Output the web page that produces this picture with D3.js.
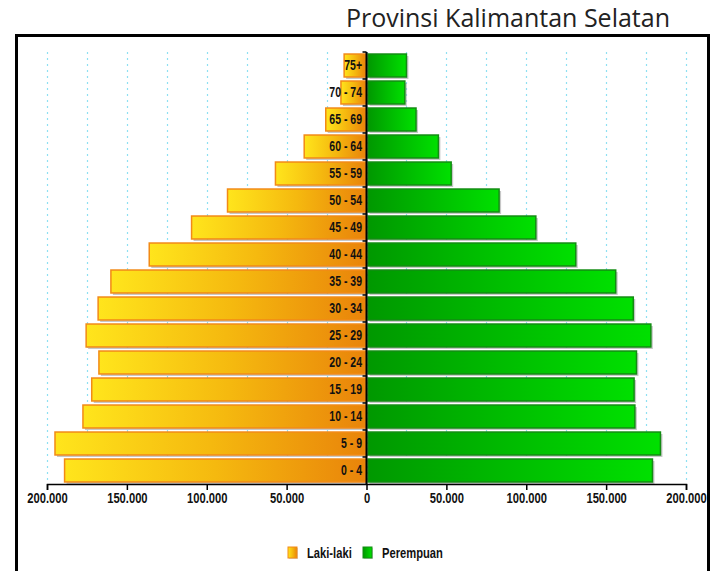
<!DOCTYPE html>
<html>
<head>
<meta charset="utf-8">
<script src="https://cdn.jsdelivr.net/npm/d3@7"></script>
<style>
  body { margin: 0; background: #fff; }
  .lbl { font-family: "Liberation Sans", Arial, sans-serif; font-weight: bold; font-size: 14px; fill: #111; }
  .title { font-family: "Open Sans", "Noto Sans", sans-serif; font-size: 25px; fill: #222; }
</style>
</head>
<body>
<div id="chart"></div>
<script>
var width = 718;
var height = 571;

// age groups, bottom to top
var ageGroups = ["0 - 4", "5 - 9", "10 - 14", "15 - 19", "20 - 24", "25 - 29", "30 - 34", "35 - 39",
                 "40 - 44", "45 - 49", "50 - 54", "55 - 59", "60 - 64", "65 - 69", "70 - 74", "75+"];
var male   = [189000, 195000, 177500, 172000, 167500, 175500, 168000, 160000,
              136000, 109500, 87000, 57000, 39000, 25500, 16000, 14000];
var female = [179000, 184000, 168000, 167500, 169000, 178000, 167000, 156000,
              131000, 106000, 83000, 53000, 45000, 31000, 24000, 25000];
var xTicks = [-200000, -150000, -100000, -50000, 0, 50000, 100000, 150000, 200000];
var gridTicks = d3.range(-200000, 200001, 25000);
var seriesNames = ["Laki-laki", "Perempuan"];

var svg = d3.select('#chart')
          .append('svg')
          .attr('width', width)
          .attr('height', height);

var defs = svg.append("defs");
var gm = defs.append("linearGradient").attr("id", "gradMale");
gm.append("stop").attr("offset", "0%").attr("stop-color", "#ffe51c");
gm.append("stop").attr("offset", "50%").attr("stop-color", "#f5b90f");
gm.append("stop").attr("offset", "100%").attr("stop-color", "#e9840a");
var gf = defs.append("linearGradient").attr("id", "gradFemale");
gf.append("stop").attr("offset", "0%").attr("stop-color", "#009800");
gf.append("stop").attr("offset", "100%").attr("stop-color", "#00e000");

// title
svg.append("text").attr("class", "title")
   .attr("x", 670).attr("y", 27)
   .attr("text-anchor", "end")
   .text("Provinsi Kalimantan Selatan");

// frame
svg.append("rect")
   .attr("x", 16.5).attr("y", 35.5)
   .attr("width", 692).attr("height", 560)
   .attr("fill", "none").attr("stroke", "#000").attr("stroke-width", 3);

var x = d3.scaleLinear().domain([-200000, 200000]).range([47, 686]);
var y = d3.scaleBand().domain(ageGroups).range([484, 52]).paddingInner(0.15).paddingOuter(0.075);

// grid
svg.append("g").selectAll("line")
   .data(gridTicks)
   .enter().append("line")
   .attr("x1", function(d) { return Math.round(x(d)) + 0.5; })
   .attr("x2", function(d) { return Math.round(x(d)) + 0.5; })
   .attr("y1", 52).attr("y2", 484)
   .attr("stroke", "#8fe0f2")
   .attr("stroke-width", 1.2)
   .attr("stroke-dasharray", "2,4");

var rows = ageGroups.map(function(a, i) { return {age: a, m: male[i], f: female[i]}; });

// shadows
var sh = svg.append("g").attr("fill", "#9a9a9a").attr("opacity", 0.55);
sh.selectAll(".sm").data(rows).enter().append("rect")
  .attr("x", function(d) { return x(-d.m) + 2; })
  .attr("y", function(d) { return y(d.age) + 2; })
  .attr("width", function(d) { return x(0) - x(-d.m) - 1; })
  .attr("height", y.bandwidth());
sh.selectAll(".sf").data(rows).enter().append("rect")
  .attr("x", function(d) { return x(0) + 3; })
  .attr("y", function(d) { return y(d.age) + 2; })
  .attr("width", function(d) { return x(d.f) - x(0) - 1; })
  .attr("height", y.bandwidth());

// bars
svg.append("g").selectAll("rect").data(rows).enter().append("rect")
   .attr("x", function(d) { return x(-d.m); })
   .attr("y", function(d) { return y(d.age); })
   .attr("width", function(d) { return x(0) - x(-d.m) - 1; })
   .attr("height", y.bandwidth())
   .attr("fill", "url(#gradMale)")
   .attr("stroke", "#f28a16").attr("stroke-width", 1.5);

svg.append("g").selectAll("rect").data(rows).enter().append("rect")
   .attr("x", function(d) { return x(0) + 1.5; })
   .attr("y", function(d) { return y(d.age); })
   .attr("width", function(d) { return x(d.f) - x(0) - 1.5; })
   .attr("height", y.bandwidth())
   .attr("fill", "url(#gradFemale)")
   .attr("stroke", "#138c13").attr("stroke-width", 1.5);

// x axis
var idLocale = d3.formatLocale({decimal: ",", thousands: ".", grouping: [3], currency: ["", ""]});
var fmt = idLocale.format(",");
var xAxis = svg.append("g")
   .attr("transform", "translate(0,484)")
   .call(d3.axisBottom(x).tickValues(xTicks).tickSize(6).tickPadding(3)
         .tickFormat(function(d) { return fmt(Math.abs(d)); }));
xAxis.select(".domain").attr("stroke", "#000").attr("stroke-width", 1.5);
xAxis.selectAll(".tick line").attr("stroke", "#000").attr("stroke-width", 1.5);
xAxis.selectAll("text").attr("class", "lbl").attr("font-size", null).attr("font-family", null)
     .attr("transform", "scale(0.8,1)");

// y axis: labels at band centers, ticks at band boundaries
var yAxis = svg.append("g")
   .attr("transform", "translate(" + x(0) + ",0)")
   .call(d3.axisLeft(y).tickSize(0).tickPadding(6));
yAxis.select(".domain").remove();
yAxis.selectAll("text").attr("class", "lbl").attr("font-size", null).attr("font-family", null)
     .attr("transform", "scale(0.75,1)");

var bounds = ageGroups.map(function(a) { return y(a) - y.step() * y.paddingInner() / 2; });
svg.append("g").selectAll("line").data(bounds).enter().append("line")
   .attr("x1", x(0) - 4).attr("x2", x(0))
   .attr("y1", function(d) { return d; }).attr("y2", function(d) { return d; })
   .attr("stroke", "#000").attr("stroke-width", 1.5);
svg.append("line")
   .attr("x1", x(0)).attr("x2", x(0))
   .attr("y1", 52).attr("y2", 484)
   .attr("stroke", "#000").attr("stroke-width", 2);

// legend
var legend = svg.append("g").attr("transform", "translate(288,547)");
var lx = [0, 75];
seriesNames.forEach(function(n, i) {
  legend.append("rect")
        .attr("x", lx[i] + 1).attr("y", 1)
        .attr("width", 9).attr("height", 11)
        .attr("fill", "#aaa").attr("opacity", 0.5);
  legend.append("rect")
        .attr("x", lx[i]).attr("y", 0)
        .attr("width", 9).attr("height", 11)
        .attr("fill", i === 0 ? "url(#gradMale)" : "url(#gradFemale)")
        .attr("stroke", i === 0 ? "#f28a16" : "#138c13");
  legend.append("g")
        .attr("transform", "translate(" + (lx[i] + 19) + ",11)")
        .append("text").attr("class", "lbl")
        .attr("transform", "scale(0.8,1)")
        .text(n);
});
</script>
</body>
</html>
